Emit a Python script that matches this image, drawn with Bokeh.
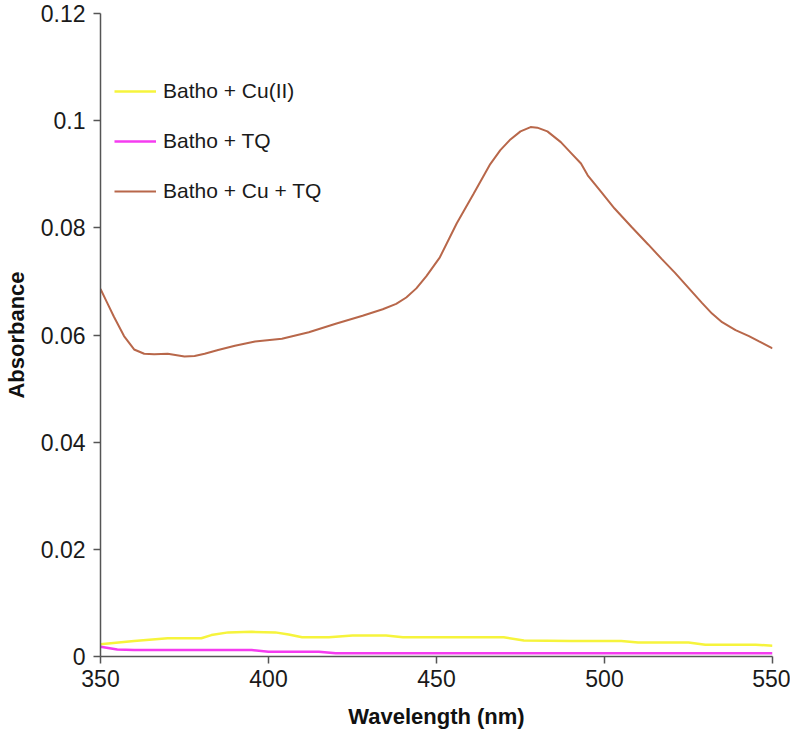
from bokeh.plotting import figure
from bokeh.models import Range1d, Legend, LegendItem, FixedTicker
from bokeh.embed import file_html
from bokeh.resources import INLINE

# Data
wavelength_cutq = [350, 352, 354, 357, 360, 363, 366, 370, 375, 378, 381, 385, 390, 396,
                   404, 412, 420, 428, 434, 438, 441, 444, 447, 451, 456, 461, 466, 469,
                   472, 475, 478, 480, 483, 487, 490, 493, 495, 499, 503, 508, 513, 517,
                   521, 525, 529, 532, 535, 539, 543, 546, 550]
absorb_cutq = [0.0686, 0.0660, 0.0634, 0.0598, 0.0573, 0.0565, 0.0564, 0.0565, 0.0560,
               0.0561, 0.0565, 0.0572, 0.0580, 0.0588, 0.0593, 0.0605, 0.0621, 0.0636,
               0.0648, 0.0658, 0.0670, 0.0687, 0.0710, 0.0745, 0.0808, 0.0863, 0.0919,
               0.0945, 0.0965, 0.0980, 0.0988, 0.0987, 0.0980, 0.0960, 0.0940, 0.0920,
               0.0898, 0.0867, 0.0836, 0.0802, 0.0769, 0.0742, 0.0716, 0.0688, 0.0660,
               0.0640, 0.0624, 0.0609, 0.0598, 0.0588, 0.0575]

wavelength_cu = [350, 360, 370, 380, 383, 388, 395, 402, 406, 410, 418, 425, 435, 440,
                 470, 476, 490, 505, 510, 525, 530, 545, 550]
absorb_cu = [0.0023, 0.0029, 0.0034, 0.0034, 0.0040, 0.0045, 0.0046, 0.0045, 0.0041,
             0.0036, 0.0036, 0.0039, 0.0039, 0.0036, 0.0036, 0.0030, 0.0029, 0.0029,
             0.0026, 0.0026, 0.0022, 0.0022, 0.0020]

wavelength_tq = [350, 355, 360, 395, 400, 415, 420, 550]
absorb_tq = [0.0018, 0.0013, 0.0012, 0.0012, 0.0009, 0.0009, 0.0006, 0.0006]

series_names = ["Batho + Cu(II)", "Batho + TQ", "Batho + Cu + TQ"]
series_colors = ["#F6F43C", "#F53CF0", "#B8674A"]

x_ticks = [350, 400, 450, 500, 550]
y_ticks = [0, 0.02, 0.04, 0.06, 0.08, 0.1, 0.12]

FONT = "Liberation Sans"

p = figure(width=790, height=731, output_backend="svg", toolbar_location=None,
           x_range=Range1d(350, 550), y_range=Range1d(0, 0.12),
           min_border_left=97, min_border_right=18, min_border_top=13, min_border_bottom=75)
p.outline_line_color = None
p.xgrid.visible = False
p.ygrid.visible = False
p.background_fill_color = "white"

r_cu = p.line(wavelength_cu, absorb_cu, line_color=series_colors[0], line_width=2.5)
r_tq = p.line(wavelength_tq, absorb_tq, line_color=series_colors[1], line_width=2.5)
r_cutq = p.line(wavelength_cutq, absorb_cutq, line_color=series_colors[2], line_width=2)

for ax in (p.xaxis[0], p.yaxis[0]):
    ax.axis_line_color = "#555555"
    ax.axis_line_width = 1.5
    ax.major_tick_line_color = "#555555"
    ax.major_tick_line_width = 1.5
    ax.major_tick_out = 7
    ax.major_tick_in = 0
    ax.minor_tick_line_color = None
    ax.major_label_text_font = FONT
    ax.major_label_text_font_size = "23px"
    ax.major_label_text_color = "#1a1a1a"
    ax.axis_label_text_font = FONT
    ax.axis_label_text_font_size = "22px"
    ax.axis_label_text_font_style = "bold"
    ax.axis_label_text_color = "#111111"

p.xaxis.ticker = FixedTicker(ticks=x_ticks)
p.yaxis.ticker = FixedTicker(ticks=y_ticks)
p.yaxis.major_label_overrides = {0: "0", 0.02: "0.02", 0.04: "0.04", 0.06: "0.06",
                                 0.08: "0.08", 0.1: "0.1", 0.12: "0.12"}
p.xaxis.axis_label = "Wavelength (nm)"
p.yaxis.axis_label = "Absorbance"
p.xaxis.major_label_standoff = 6
p.yaxis.major_label_standoff = 8
p.xaxis.axis_label_standoff = 14
p.yaxis.axis_label_standoff = 9

legend = Legend(items=[LegendItem(label=series_names[0], renderers=[r_cu]),
                       LegendItem(label=series_names[1], renderers=[r_tq]),
                       LegendItem(label=series_names[2], renderers=[r_cutq])],
                location=(14, 453), padding=0, margin=0, spacing=26,
                glyph_width=42, glyph_height=24, label_height=24, label_standoff=7,
                label_text_font=FONT, label_text_font_size="21px",
                label_text_color="#1a1a1a",
                border_line_color=None, background_fill_alpha=0)
p.add_layout(legend)

open("out.html", "w").write(file_html(p, INLINE))
